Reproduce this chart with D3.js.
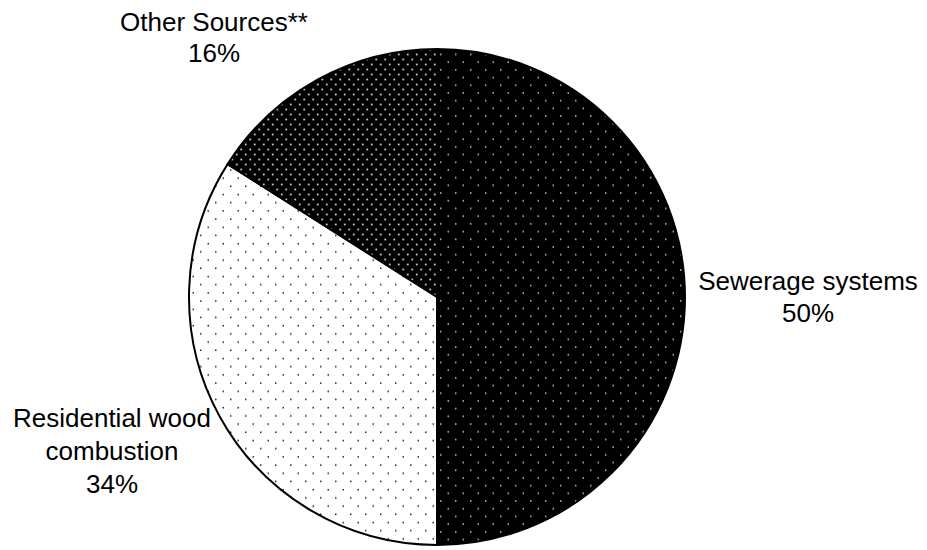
<!DOCTYPE html>
<html>
<head>
<meta charset="utf-8">
<script src="https://cdn.jsdelivr.net/npm/d3@7"></script>
<style>
  html, body { margin: 0; padding: 0; background: #fff; }
  svg { display: block; }
  text { font-family: "Liberation Sans", Arial, sans-serif; font-size: 26px; fill: #000; }
</style>
</head>
<body>
<script>
const categories = ["Sewerage systems", "Residential wood combustion", "Other Sources**"];
const values = [50, 34, 16];
const labelLines = [
  ["Sewerage systems", "50%"],
  ["Residential wood", "combustion", "34%"],
  ["Other Sources**", "16%"]
];

const W = 927, H = 550;
const cx = 437, cy = 297, R = 248;

const svg = d3.select("body").append("svg").attr("width", W).attr("height", H);
const defs = svg.append("defs");

// Pattern: sparse white dots on black (sewerage)
function diamondPattern(id, bg, fg, w, h, r) {
  const p = defs.append("pattern").attr("id", id).attr("patternUnits", "userSpaceOnUse")
    .attr("width", w).attr("height", h);
  p.append("rect").attr("width", w).attr("height", h).attr("fill", bg);
  [[w * 0.25, h * 0.25], [w * 0.75, h * 0.75]].forEach(([x, y]) => {
    p.append("rect").attr("x", x - r).attr("y", y - r).attr("width", 2 * r).attr("height", 2 * r).attr("fill", fg);
  });
}
diamondPattern("pSew", "#000", "#e0e0e0", 15, 15.4, 0.7);
diamondPattern("pRes", "#fff", "#222", 15, 16.4, 0.75);
diamondPattern("pOth", "#000", "#c8c8c8", 9, 10, 0.9);

const fills = ["url(#pSew)", "url(#pRes)", "url(#pOth)"];

const pie = d3.pie().sort(null).value(d => d)(values);
const arc = d3.arc().innerRadius(0).outerRadius(R);

const g = svg.append("g").attr("transform", `translate(${cx},${cy})`);
g.selectAll("path").data(pie).join("path")
  .attr("d", arc)
  .attr("fill", (d, i) => fills[i])
  .attr("stroke", "#000")
  .attr("stroke-width", 2)
  .attr("stroke-linejoin", "round");

// Label positions (centre x, first baseline)
const labelPos = [[808, 290], [112, 427], [214, 31]];
const lineGap = [32, 33, 31];
labelLines.forEach((lines, i) => {
  const t = svg.append("text").attr("text-anchor", "middle");
  lines.forEach((s, j) => {
    t.append("tspan").attr("x", labelPos[i][0]).attr("y", labelPos[i][1] + j * lineGap[i]).text(s);
  });
});
</script>
</body>
</html>
